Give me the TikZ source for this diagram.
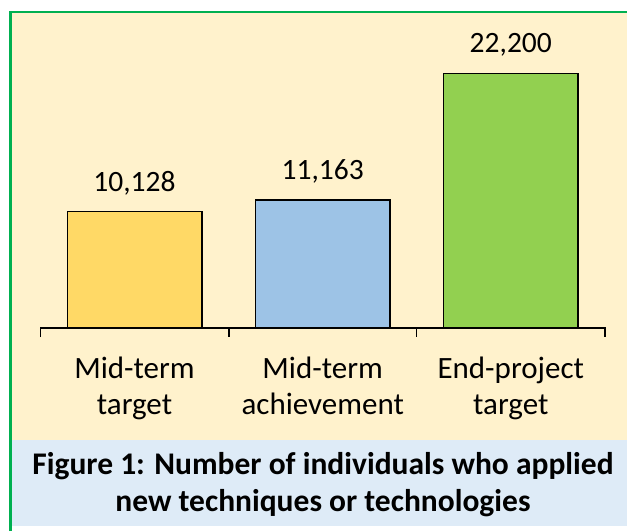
\documentclass[tikz,border=0pt]{standalone}
\usepackage{fontspec}
\setmainfont{Carlito}
\definecolor{cream}{HTML}{FFF2CC}
\definecolor{capblue}{HTML}{DEEBF7}
\definecolor{frameg}{HTML}{00B050}
\definecolor{baryellow}{HTML}{FFD966}
\definecolor{barblue}{HTML}{9DC3E6}
\definecolor{bargreen}{HTML}{92D050}
\tikzset{
  bar/.style={draw=black, line width=1.5pt, inner sep=0pt, anchor=south, minimum width=134.5pt},
  vallabel/.style={anchor=base, inner sep=0pt, font=\fontsize{29.5}{35}\selectfont},
  catlabel/.style={anchor=base, inner sep=0pt, font=\fontsize{31}{37}\selectfont},
  caplabel/.style={anchor=base, inner sep=0pt, font=\bfseries\fontsize{31.5}{37}\selectfont},
  axisline/.style={line width=1.3pt, black}
}
\begin{document}
\begin{tikzpicture}[x=1pt,y=-1pt]
\useasboundingbox (0,0) rectangle (627,531);
\fill[white] (0,0) rectangle (627,531);
\fill[cream] (10.5,12) rectangle (627,440);
\fill[capblue] (10.5,440) rectangle (627,526);
\draw[frameg, line width=2.2pt] (10.5,531) -- (10.5,12) -- (627,12);
% bars
\coordinate (b1) at (134.5,328);
\coordinate (b2) at (322.7,328);
\coordinate (b3) at (510.8,328);
\node[bar, fill=baryellow, minimum height=116pt] (bar1) at (b1) {};
\node[bar, fill=barblue, minimum height=127.5pt] (bar2) at (b2) {};
\node[bar, fill=bargreen, minimum height=254pt] (bar3) at (b3) {};
% value labels
\node[vallabel] (v1) at ([yshift=19.5pt]bar1.north) {10,128};
\node[vallabel] (v2) at ([yshift=19.5pt]bar2.north) {11,163};
\node[vallabel] (v3) at ([yshift=20pt]bar3.north) {22,200};
% axis
\coordinate (t0) at (40.7,328);
\coordinate (t1) at (229,328);
\coordinate (t2) at (416.7,328);
\coordinate (t3) at (605,328);
\draw[axisline] ([yshift=-9pt]t0) -- (t0) -- (t3) -- ([yshift=-9pt]t3);
\draw[axisline] (t1) -- ([yshift=-9pt]t1);
\draw[axisline] (t2) -- ([yshift=-9pt]t2);
% category labels
\node[catlabel] (c1a) at (134.5,378) {Mid-term};
\node[catlabel] (c1b) at (134.5,414) {target};
\node[catlabel] (c2a) at (322.7,378) {Mid-term};
\node[catlabel] (c2b) at (322.7,414) {achievement};
\node[catlabel] (c3a) at (510.8,378) {End-project};
\node[catlabel] (c3b) at (510.8,414) {target};
% caption
\node[caplabel] (cap1) at (323,474) {Figure 1: Number of individuals who applied};
\node[caplabel] (cap2) at (323,511) {new techniques or technologies};
\end{tikzpicture}
\end{document}
